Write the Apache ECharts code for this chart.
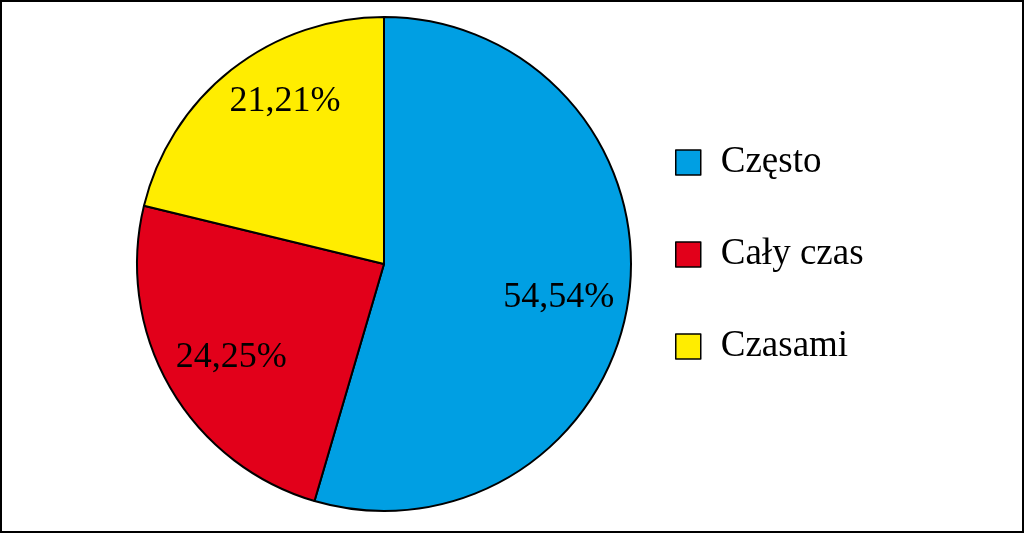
<!DOCTYPE html>
<html>
<head>
<meta charset="utf-8">
<script src="https://cdn.jsdelivr.net/npm/echarts@6/dist/echarts.min.js"></script>
<style>
html,body{margin:0;padding:0;background:#fff;}
#wrap{position:relative;width:1024px;height:533px;}
#chart{position:absolute;left:0;top:0;width:1024px;height:533px;}
#frame{position:absolute;left:0;top:0;width:1024px;height:533px;box-sizing:border-box;border:2px solid #000;pointer-events:none;}
</style>
</head>
<body>
<div id="wrap"><div id="chart"></div><div id="frame"></div></div>
<script>
const categories = ['Często', 'Cały czas', 'Czasami'];
const values = [54.54, 24.25, 21.21];
const labels = ['54,54%', '24,25%', '21,21%'];
const colors = ['#009FE3', '#E2001A', '#FFED00'];
const labelOffsets = [[0, 8], [0, 5], [10, -24]];

const data = categories.map((c, i) => ({ name: c, value: values[i], itemStyle: { color: colors[i] } }));
const labelData = categories.map((c, i) => ({ name: c, value: values[i], label: { formatter: labels[i], offset: labelOffsets[i] } }));

const chart = echarts.init(document.getElementById('chart'));
chart.setOption({
  animation: false,
  backgroundColor: '#fff',
  legend: {
    orient: 'vertical',
    left: 670,
    top: 139,
    itemWidth: 25,
    itemHeight: 25,
    itemGap: 55,
    icon: 'rect',
    data: categories,
    itemStyle: { borderColor: '#000', borderWidth: 1.5 },
    textStyle: { fontFamily: 'Liberation Serif', fontSize: 37, color: '#000', padding: [0, 0, 0, 15] }
  },
  series: [
    {
      type: 'pie',
      center: [384, 264],
      radius: [0, 247],
      startAngle: 90,
      clockwise: true,
      silent: true,
      label: { show: false },
      labelLine: { show: false },
      itemStyle: { borderColor: '#000', borderWidth: 2 },
      data: data
    },
    {
      type: 'pie',
      center: [384, 264],
      radius: [100, 247],
      startAngle: 90,
      clockwise: true,
      silent: true,
      itemStyle: { color: 'rgba(0,0,0,0)', borderWidth: 0 },
      label: { show: true, position: 'inside', fontFamily: 'Liberation Serif', fontSize: 36, color: '#000' },
      labelLine: { show: false },
      data: labelData
    }
  ]
});
</script>
</body>
</html>
